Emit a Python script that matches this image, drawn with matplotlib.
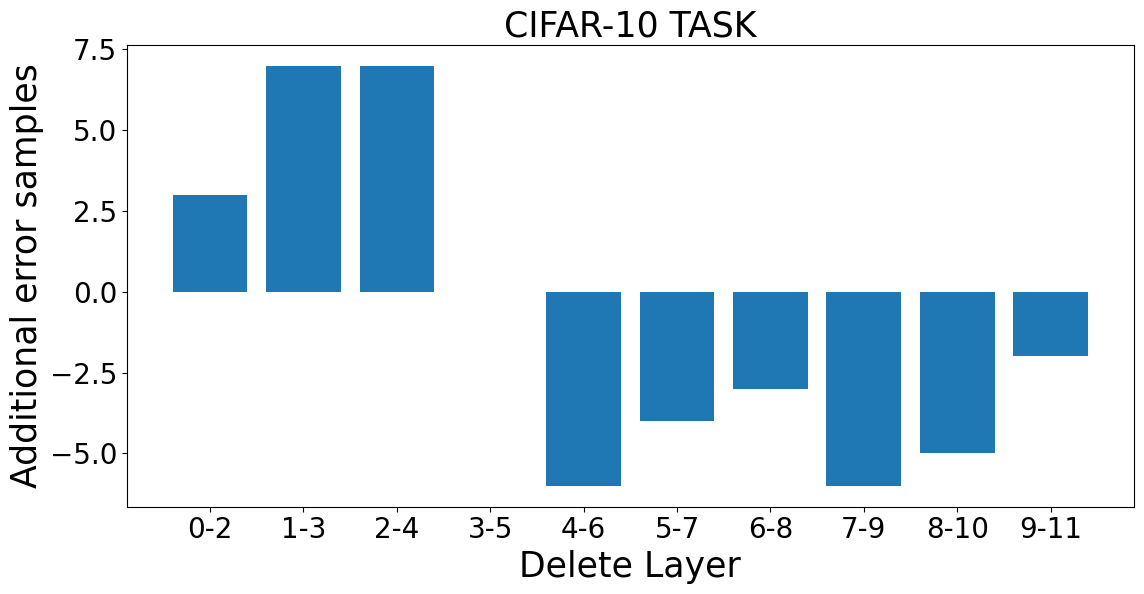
import matplotlib
matplotlib.use("Agg")
import matplotlib.pyplot as plt

# dados
camadas = ["0-2", "1-3", "2-4", "3-5", "4-6", "5-7", "6-8", "7-9", "8-10", "9-11"]
erros_extra = [3, 7, 7, 0, -6, -4, -3, -6, -5, -2]

fig, ax = plt.subplots(figsize=(11.44, 5.94), dpi=100)
ax.bar(camadas, erros_extra, color="#1f77b4")

ax.set_title("CIFAR-10 TASK", fontsize=25)
ax.set_xlabel("Delete Layer", fontsize=25)
ax.set_ylabel("Additional error samples", fontsize=25)
ax.tick_params(axis="both", labelsize=20)
ax.set_yticks([-5.0, -2.5, 0.0, 2.5, 5.0, 7.5])

fig.subplots_adjust(left=0.111, right=0.991, top=0.925, bottom=0.147)
plt.savefig("out.png", dpi=100)
plt.close()
